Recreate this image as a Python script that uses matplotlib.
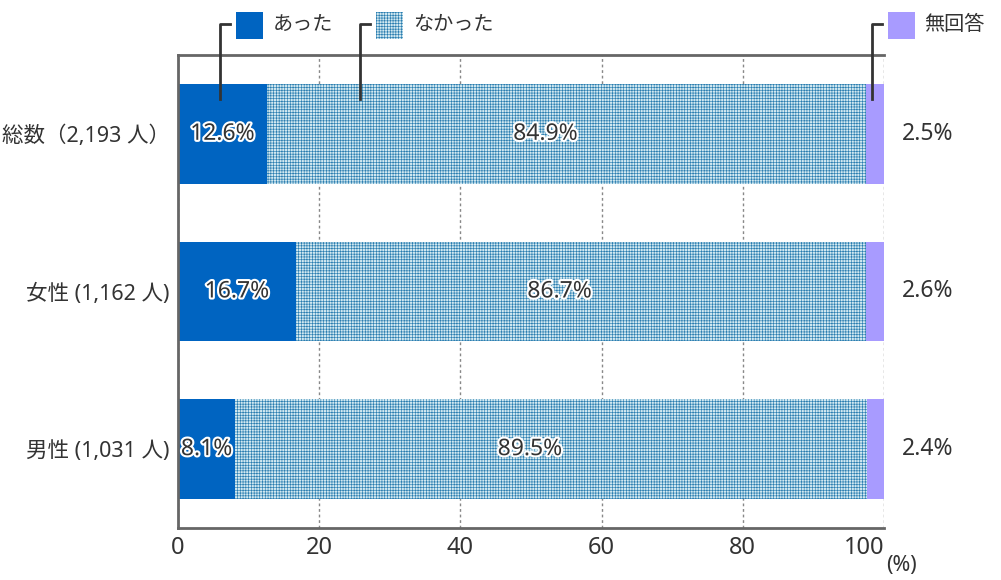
import matplotlib
matplotlib.use('Agg')
import matplotlib.pyplot as plt
import matplotlib.patheffects as pe
from matplotlib.patches import Rectangle
from matplotlib.lines import Line2D

plt.rcParams['font.family'] = ['Noto Sans', 'Noto Sans CJK JP', 'DejaVu Sans']
plt.rcParams['hatch.linewidth'] = 0.45

categories = ['総数（2,193 人）', '女性 (1,162 人)', '男性 (1,031 人)']
atta = [12.6, 16.7, 8.1]
nakatta = [84.9, 86.7, 89.5]
mukaito = [2.5, 2.6, 2.4]
legend_labels = ['あった', 'なかった', '無回答']

c_blue = '#0064c1'
c_light = '#d2e9f1'
c_hatch = '#2a7db0'
c_purple = '#a89bff'
c_text = '#333333'

fig = plt.figure(figsize=(10.01, 5.8), dpi=100)
ax = fig.add_axes([0.1778, 0.0897, 0.7053, 0.8155])

y = list(range(len(categories)))
h = 0.633
for i in y:
    # blue from the left, purple from the right, hatched between
    ax.barh(i, atta[i], height=h, left=0, color=c_blue, linewidth=0, zorder=2)
    ax.barh(i, mukaito[i], height=h, left=100 - mukaito[i], color=c_purple, linewidth=0, zorder=2)
    ax.barh(i, 100 - mukaito[i] - atta[i], height=h, left=atta[i], color=c_light,
            edgecolor=c_hatch, hatch='++++++', linewidth=0, zorder=2)

    stroke = [pe.withStroke(linewidth=3, foreground='white')]
    ax.text(atta[i] / 2, i, f'{atta[i]}%', ha='center', va='center', fontsize=16.5,
            color=c_text, path_effects=stroke, zorder=5)
    ax.text(atta[i] + (100 - mukaito[i] - atta[i]) / 2 - 3, i, f'{nakatta[i]}%', ha='center',
            va='center', fontsize=16.5, color=c_text, path_effects=stroke, zorder=5)
    ax.text(106.2, i, f'{mukaito[i]}%', ha='center', va='center', fontsize=16.5,
            color=c_text, clip_on=False)

ax.set_xlim(0, 100)
ax.set_ylim(2.5, -0.5)
ax.set_yticks(y)
ax.set_yticklabels(categories, fontsize=15.5, color=c_text)
ax.set_xticks([0, 20, 40, 60, 80, 100])
ax.set_xticklabels(['0', '20', '40', '60', '80', '100'], fontsize=17, color=c_text)
ax.get_xticklabels()[-1].set_horizontalalignment('right')
ax.tick_params(axis='both', length=0, pad=6)
ax.tick_params(axis='x', pad=6)
ax.xaxis.grid(True, linestyle=(0, (2, 2)), color='#888888', linewidth=1, zorder=1)
ax.set_axisbelow(True)
for s in ['top', 'left', 'bottom']:
    ax.spines[s].set_color('#666666')
    ax.spines[s].set_linewidth(2)
ax.spines['right'].set_visible(False)

fig.text(886 / 1001, 1 - 566 / 580, '(%)', fontsize=15.5, color=c_text, va='center')

# legend with leader lines
leg = [(236, 273, c_blue, None, 220), (376, 413, c_light, '++++++', 360), (888, 924, c_purple, None, 872)]
for (sx, tx, col, hat, lx), lab in zip(leg, legend_labels):
    r = Rectangle((sx / 1001, 1 - 39 / 580), 27 / 1001, 27 / 580, transform=fig.transFigure,
                  facecolor=col, edgecolor=c_hatch if hat else col, hatch=hat, linewidth=0)
    fig.add_artist(r)
    fig.text(tx / 1001, 1 - 25 / 580, lab, fontsize=14.5, color=c_text, va='center')
    fig.add_artist(Line2D([lx / 1001, lx / 1001, (lx + 10) / 1001],
                          [1 - 99 / 580, 1 - 24 / 580, 1 - 24 / 580],
                          transform=fig.transFigure, color='#333333', linewidth=2))

fig.savefig('out.png', dpi=100)
plt.close(fig)
